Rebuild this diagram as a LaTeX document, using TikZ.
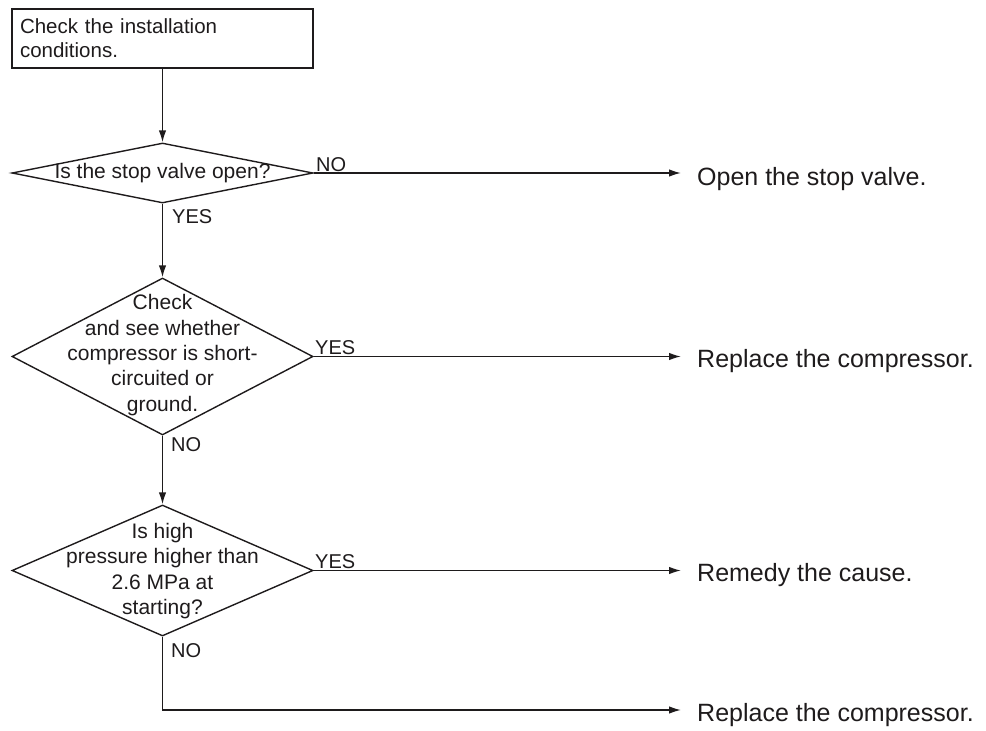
\documentclass[tikz,border=0pt]{standalone}
\usepackage{fontspec}
\setmainfont{Liberation Sans}
\usetikzlibrary{shapes.geometric,arrows.meta}
\definecolor{ink}{RGB}{30,27,28}
\tikzset{
  every node/.style={text=ink},
  ln/.style={draw=ink,line width=1.4pt},
  arr/.style={ln,-{Latex[length=12pt,width=7.5pt]}},
  dia/.style={ln,shape=diamond,inner sep=0pt,minimum width=301pt},
  dtext/.style={inner sep=0pt,align=center,font=\fontsize{21}{25.3}\selectfont},
  yn/.style={inner sep=0pt,anchor=base west,font=\fontsize{20}{24}\selectfont},
  res/.style={inner sep=0pt,anchor=base west,font=\fontsize{25}{30}\selectfont},
}
\begin{document}
\begin{tikzpicture}[x=1pt,y=-1pt]
\useasboundingbox (0,0) rectangle (986,731);
% start box
\node[ln,rectangle,minimum width=301pt,minimum height=59pt,text width=285pt,inner sep=0pt,align=left,
  font=\fontsize{20.5}{24}\selectfont] (box) at (162.5,38.5) {Check the installation\\conditions.};
% diamonds
\node[dia,minimum height=60pt] (d1) at (162.5,173) {};
\node[dtext] (d1t) at (162.5,173) {Is the stop valve open?};
\node[dia,minimum height=157pt] (d2) at (162.5,356.5) {};
\node[dtext] (d2t) at (162.5,355) {Check\\and see whether\\compressor is short-\\circuited or\\ground.};
\node[dia,minimum height=131pt] (d3) at (162.5,570.5) {};
\node[dtext] (d3t) at (162.5,571) {Is high\\pressure higher than\\2.6 MPa at\\starting?};
% results
\node[res] (r1) at (697,185) {Open the stop valve.};
\node[res] (r2) at (697,367) {Replace the compressor.};
\node[res] (r3) at (697,581) {Remedy the cause.};
\node[res] (r4) at (697,721) {Replace the compressor.};
\coordinate (c4) at (162.5,710);
% labels
\node[yn] (l1) at (316,171) {NO};
\node[yn] (l2) at (172,223) {YES};
\node[yn] (l3) at (315,354) {YES};
\node[yn] (l4) at (171,451) {NO};
\node[yn] (l5) at (315,568) {YES};
\node[yn] (l6) at (171,657) {NO};
% connectors
\draw[arr] (box.south) -- (d1.north);
\draw[arr] (d1.south) -- (d2.north);
\draw[arr] (d2.south) -- (d3.north);
\draw[arr,shorten >=16pt] (d1.east) -- (d1.east -| r1.west);
\draw[arr,shorten >=16pt] (d2.east) -- (d2.east -| r2.west);
\draw[arr,shorten >=16pt] (d3.east) -- (d3.east -| r3.west);
\draw[arr,shorten >=16pt] (d3.south) -- (c4) -- (c4 -| r4.west);
\end{tikzpicture}
\end{document}
